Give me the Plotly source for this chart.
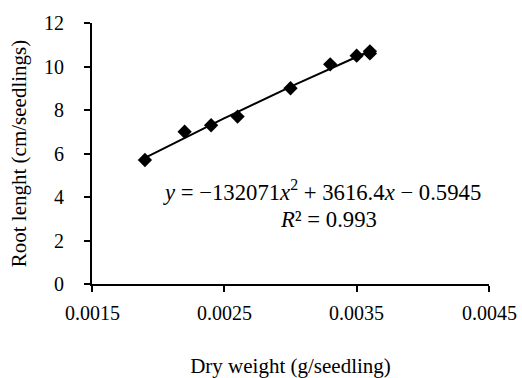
import numpy as np
import plotly.graph_objects as go

dry_weight = [0.0019, 0.0022, 0.0024, 0.0026, 0.0030, 0.0033, 0.0035, 0.0036, 0.0036]
root_length = [5.7, 7.0, 7.3, 7.7, 9.0, 10.1, 10.5, 10.6, 10.7]
trend_coefs = [-132071, 3616.4, -0.5945]
x_ticks = [0.0015, 0.0025, 0.0035, 0.0045]
x_tick_labels = ["0.0015", "0.0025", "0.0035", "0.0045"]
y_ticks = [0, 2, 4, 6, 8, 10, 12]

FONT = "Liberation Serif"
FS = 20

xs = np.linspace(min(dry_weight), max(dry_weight), 100)
ys = np.polyval(trend_coefs, xs)

fig = go.Figure()
fig.add_trace(go.Scatter(x=xs, y=ys, mode="lines",
                         line=dict(color="black", width=2), showlegend=False,
                         hoverinfo="skip"))
fig.add_trace(go.Scatter(x=dry_weight, y=root_length, mode="markers",
                         marker=dict(symbol="diamond", size=11, color="black"),
                         showlegend=False))

# x tick labels placed on the x scale (keeps edge labels centred on their ticks)
for xv, t in zip(x_ticks, x_tick_labels):
    fig.add_annotation(x=xv, y=-0.112, xref="x", yref="paper", text=t,
                       showarrow=False, xanchor="center", yanchor="middle",
                       font=dict(family=FONT, size=FS, color="black"))

fig.add_annotation(x=0.003237, y=4.3, xref="x", yref="y",
                   text="<i>y</i> = −132071<i>x</i><sup>2</sup> + 3616.4<i>x</i> − 0.5945",
                   showarrow=False, font=dict(family=FONT, size=22.7, color="black"))
fig.add_annotation(x=0.003289, y=2.95, xref="x", yref="y",
                   text="<i>R</i>² = 0.993",
                   showarrow=False, font=dict(family=FONT, size=22.7, color="black"))

fig.update_layout(
    width=522, height=378,
    margin=dict(l=92, r=33, t=23, b=94),
    paper_bgcolor="white", plot_bgcolor="white",
    font=dict(family=FONT, size=FS, color="black"),
    xaxis=dict(range=[0.0015, 0.0045], tickvals=x_ticks, showticklabels=False,
               showgrid=False, zeroline=False, showline=True, linecolor="black",
               linewidth=2, ticks="outside", ticklen=6, tickwidth=2, tickcolor="black",
               automargin=False,
               title=dict(text="Dry weight (g/seedling)", standoff=68,
                          font=dict(family=FONT, size=21))),
    yaxis=dict(range=[0, 12], tickvals=y_ticks, showgrid=False, zeroline=False,
               showline=True, linecolor="black", linewidth=2, ticks="outside",
               ticklen=6, tickwidth=2, tickcolor="black",
               ticklabelstandoff=16, automargin=False,
               tickfont=dict(family=FONT, size=FS),
               title=dict(text="Root lenght (cm/seedlings)", standoff=12,
                          font=dict(family=FONT, size=21))),
)

fig.write_html("out.html")
